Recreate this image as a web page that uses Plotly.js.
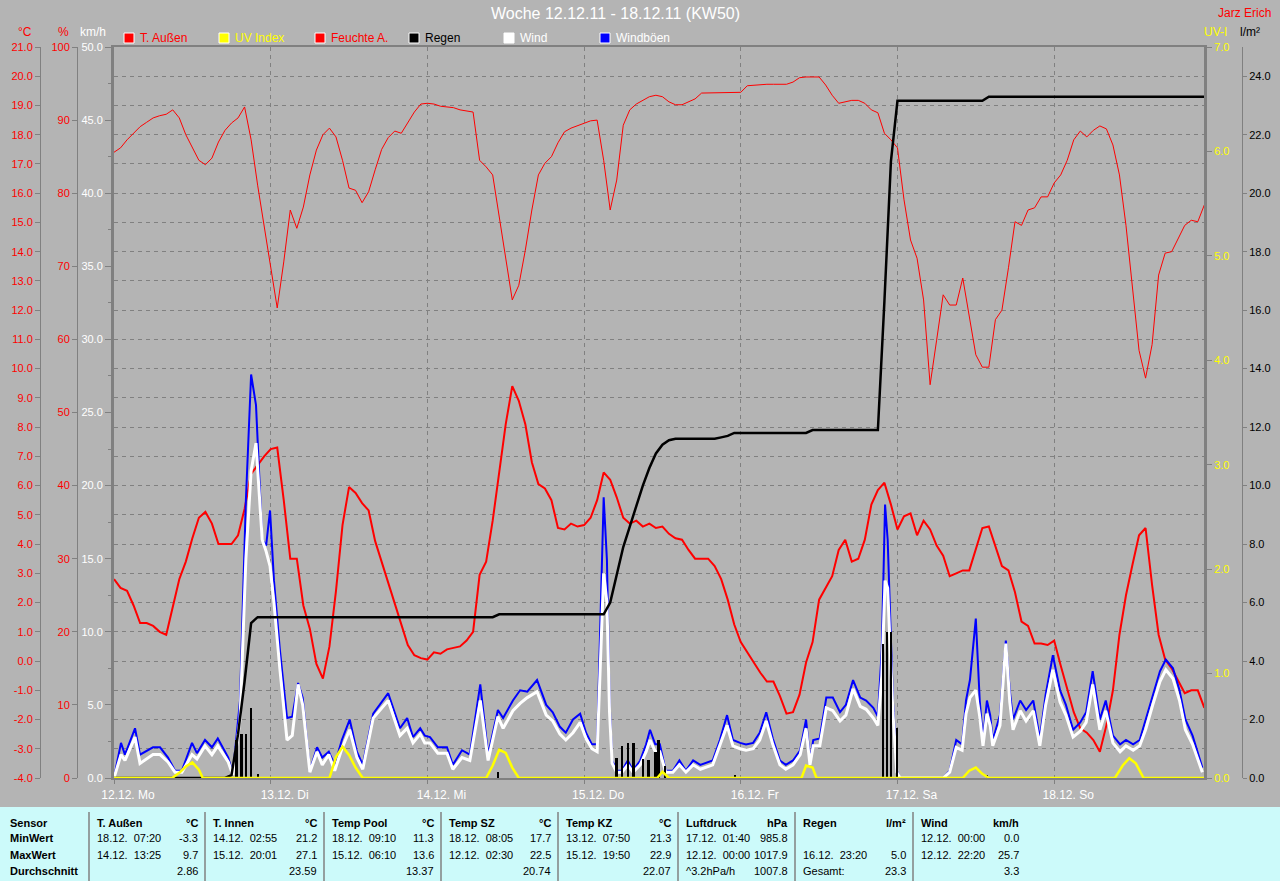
<!DOCTYPE html>
<html><head><meta charset="utf-8">
<script src="https://cdn.plot.ly/plotly-3.0.1.min.js"></script>
<style>html,body{margin:0;padding:0;background:#b4b4b4;overflow:hidden}#chart{width:1280px;height:881px}</style>
</head><body><div id="chart"></div>
<script>
// ---------- DATA ----------
const dayLabels = ['12.12. Mo','13.12. Di','14.12. Mi','15.12. Do','16.12. Fr','17.12. Sa','18.12. So'];
const dayHours = [0,24,48,72,96,120,144];

// hourly values, hour 0 = 12.12. 00:00
const tempOut = [2.8,2.5,2.4,1.9,1.3,1.3,1.2,1.0,0.9,1.8,
2.8,3.4,4.2,4.9,5.1,4.7,4.0,4.0,4.0,4.3,
5.2,6.4,6.7,7.0,7.25,7.3,5.5,3.5,3.5,1.9,
1.1,-0.1,-0.6,0.5,2.4,4.65,5.95,5.75,5.4,5.15,
4.1,3.4,2.7,2.0,1.3,0.55,0.2,0.1,0.05,0.3,
0.25,0.4,0.45,0.5,0.7,1.0,2.95,3.4,4.8,6.5,
8.1,9.4,8.9,8.1,6.8,6.05,5.9,5.5,4.55,4.5,
4.7,4.6,4.65,4.9,5.5,6.45,6.2,5.6,4.9,4.7,
4.8,4.6,4.7,4.55,4.6,4.35,4.2,4.15,3.8,3.5,
3.5,3.5,3.25,2.8,2.1,1.25,0.65,0.3,-0.05,-0.4,
-0.7,-0.7,-1.2,-1.8,-1.75,-1.15,-0.05,0.65,2.1,2.5,
2.9,3.8,4.15,3.4,3.5,4.15,5.35,5.85,6.1,5.35,
4.5,4.95,5.05,4.3,4.8,4.5,3.95,3.6,2.9,3.0,
3.1,3.1,3.85,4.55,4.6,3.95,3.25,3.1,2.35,1.35,
1.2,0.6,0.6,0.55,0.7,-0.15,-1.0,-1.75,-2.3,-2.45,
-2.7,-3.1,-2.2,-1.0,0.9,2.25,3.3,4.3,4.55,2.6,
0.9,0.05,-0.25,-0.65,-1.1,-1.0,-1.0,-1.6];

const humidity = [85.6,86.2,87.3,88.2,89.1,89.7,90.3,90.6,90.8,91.4,
90.3,88.0,86.2,84.5,83.9,84.8,87.0,88.6,89.6,90.3,
91.8,87.3,81.1,75.6,70.2,64.3,70.6,77.7,75.2,78.1,
82.5,85.9,88.0,88.9,87.7,84.5,80.7,80.4,78.7,80.2,
83.2,86.0,87.6,88.5,88.2,89.7,91.1,92.2,92.3,92.2,
91.9,91.8,91.7,91.4,91.2,91.1,84.5,83.6,82.5,77.0,
71.1,65.4,67.4,72.2,77.7,82.5,84.1,85.0,86.9,88.4,
88.9,89.2,89.5,89.9,90.0,84.5,77.7,81.8,89.3,91.4,
92.2,92.7,93.2,93.4,93.2,92.5,92.1,92.1,92.5,92.9,
93.7,93.7,93.7,93.7,93.7,93.7,93.8,94.7,94.8,94.8,
94.9,94.9,94.9,94.9,95.2,95.8,95.9,95.9,95.9,94.8,
93.4,92.3,92.5,92.7,92.7,92.3,91.4,91.0,88.2,87.3,
86.2,79.1,73.6,71.1,65.4,53.8,59.9,66.1,64.7,64.7,
68.4,63.3,57.9,56.2,56.2,62.7,64.0,69.8,76.1,75.6,
77.7,78.0,79.5,79.5,81.4,82.5,84.5,87.3,88.5,87.7,
88.6,89.2,88.8,86.6,82.5,75.6,67.4,58.5,54.7,59.3,
68.8,71.8,72.0,73.9,75.6,76.3,76.1,78.4];

const rainTotal = [0,0,0,0,0,0,0,0,0,0,
0,0,0,0,0,0,0,0,0.1,1.5,
3.3,5.3,5.5,5.5,5.5,5.5,5.5,5.5,5.5,5.5,
5.5,5.5,5.5,5.5,5.5,5.5,5.5,5.5,5.5,5.5,
5.5,5.5,5.5,5.5,5.5,5.5,5.5,5.5,5.5,5.5,
5.5,5.5,5.5,5.5,5.5,5.5,5.5,5.5,5.5,5.6,
5.6,5.6,5.6,5.6,5.6,5.6,5.6,5.6,5.6,5.6,
5.6,5.6,5.6,5.6,5.6,5.6,6.0,6.9,7.9,8.6,
9.3,10.0,10.6,11.1,11.4,11.55,11.6,11.6,11.6,11.6,
11.6,11.6,11.6,11.65,11.7,11.8,11.8,11.8,11.8,11.8,
11.8,11.8,11.8,11.8,11.8,11.8,11.8,11.9,11.9,11.9,
11.9,11.9,11.9,11.9,11.9,11.9,11.9,11.9,16.3,21.1,
23.16,23.16,23.16,23.16,23.16,23.16,23.16,23.16,23.16,23.16,
23.16,23.16,23.16,23.16,23.3,23.3,23.3,23.3,23.3,23.3,
23.3,23.3,23.3,23.3,23.3,23.3,23.3,23.3,23.3,23.3,
23.3,23.3,23.3,23.3,23.3,23.3,23.3,23.3,23.3,23.3,
23.3,23.3,23.3,23.3,23.3,23.3,23.3,23.3];

const rainBarHours = [18.8,19.5,20.2,21.0,22.05,58.8,77.0,77.8,78.7,79.6,81.0,81.9,82.9,83.4,84.4,95.1,117.8,118.4,119.0,119.9,133.7];
const rainBars = [1.3,1.5,1.5,2.4,0.15,0.2,0.7,1.1,1.2,1.2,0.65,0.6,0.9,1.3,0.4,0.1,4.6,5.0,5.0,1.7,0.1];

const windHours = [0,1.07,1.68,3.22,3.98,5.97,7.05,8.27,9.34,10.4,
11.95,12.7,13.94,15.0,15.9,17.5,18.2,19.3,20.2,21.0,
21.75,22.7,23.3,23.9,24.5,25.4,26.5,27.3,28.2,28.9,
30.0,31.1,31.9,32.9,33.8,34.9,36.1,37.2,38.1,39.7,
42.0,43.8,44.9,45.8,46.9,47.6,48.4,49.6,51.0,51.9,
53.3,54.5,56.1,57.3,58.8,59.6,61.1,62.2,63.3,64.8,
66.2,67.2,68.3,69.2,70.3,71.4,72.3,73.2,74.0,74.5,
75.0,75.5,75.9,76.3,77.0,77.8,78.7,79.5,80.6,81.5,
82.1,82.9,83.6,84.5,85.6,86.6,87.6,88.7,89.8,91.7,
92.8,93.9,94.8,95.9,96.8,97.9,98.9,99.9,100.9,102.0,
102.9,104.0,105.1,106.0,106.6,107.1,108.1,109.1,110.1,111.2,
112.1,113.2,114.3,115.2,116.3,117.0,117.6,118.1,118.5,118.8,
119.3,119.9,120.4,127.0,128.0,129.0,129.9,130.5,131.1,132.0,
132.6,133.1,133.7,134.2,134.6,135.7,136.6,137.2,137.7,138.8,
139.7,140.8,141.8,142.7,143.8,144.9,145.8,146.9,148.0,148.9,
149.9,151.0,151.9,153.0,154.1,155.0,156.1,157.1,158.0,159.1,
160.2,161.1,162.2,163.2,164.1,165.2,166.7];

const gustKmh = [0,2.4,1.6,3.4,1.6,2.1,2.1,1.4,0.5,0.5,
2.4,1.7,2.6,2.1,2.7,1.4,0.3,5.3,19.0,27.6,
25.5,16.3,15.9,18.3,13.5,8.8,4.1,4.2,6.5,5.5,
0.5,2.1,1.4,1.8,0.9,2.6,4.0,1.8,0.9,4.4,
5.8,3.4,4.1,2.8,3.4,2.9,2.8,2.1,2.1,0.9,
1.9,1.6,6.4,1.6,4.65,4.1,5.3,6.0,5.9,6.7,
5.0,4.5,3.5,3.1,4.0,4.4,3.1,2.3,2.3,10.8,
19.2,14.9,5.3,1.2,0.5,0.5,1.2,0.5,1.2,2.3,
3.3,2.3,2.3,0.5,0.5,1.2,0.5,1.2,0.9,1.2,
2.6,4.3,2.6,2.4,2.3,2.4,3.1,4.5,2.7,1.2,
0.9,1.2,1.9,4.0,1.2,2.6,2.7,5.5,5.5,4.5,
5.0,6.7,5.5,5.3,4.8,4.2,8.8,18.7,16.3,12.2,
5.3,0.5,0,0,0.5,2.6,2.3,5.3,6.7,10.9,
5.3,2.6,5.3,4.3,2.6,4.3,9.4,6.0,4.0,5.3,
4.65,5.3,2.7,5.7,8.4,6.0,5.0,3.3,3.8,4.5,
7.3,4.0,5.3,2.9,2.3,2.6,2.3,2.6,4.0,5.7,
7.3,8.1,7.5,6.0,4.0,2.9,0.7];

const windKmh = [0,1.6,1.2,2.8,1.0,1.6,1.6,1.1,0.4,0.4,
1.6,1.3,2.2,1.6,2.2,1.1,0.2,4.0,15.0,21.0,
22.9,16.3,15.5,14.5,12.0,7.5,2.6,2.9,6.4,5.0,
0.4,1.8,0.9,1.6,0.5,2.0,3.3,1.4,0.6,4.1,
5.3,2.9,3.4,2.4,3.0,2.4,2.4,1.7,1.7,0.6,
1.4,1.2,5.3,1.2,4.2,3.4,4.6,5.1,5.5,5.9,
4.3,3.9,3.0,2.6,3.1,3.8,2.7,2.0,1.8,8.0,
14.0,12.0,4.5,1.0,0.4,0.4,0.9,0.4,0.9,1.8,
2.6,1.8,1.8,0.4,0.4,0.9,0.4,0.9,0.6,0.9,
2.2,3.6,2.2,2.0,1.9,2.0,2.6,3.9,2.3,0.9,
0.6,0.9,1.6,3.4,0.9,2.2,2.2,4.8,4.6,3.9,
4.3,6.1,4.9,4.7,4.1,3.6,7.0,13.5,13.0,10.0,
4.5,0.4,0,0,0.4,2.1,1.9,4.4,5.5,6.0,
4.2,2.2,4.4,3.6,2.2,3.6,9.2,5.2,3.3,4.6,
3.9,4.6,2.2,5.0,7.4,5.2,4.3,2.8,3.2,3.8,
6.4,3.3,4.6,2.4,1.8,2.2,1.9,2.2,3.3,5.0,
6.6,7.4,6.8,5.3,3.3,2.3,0.4];

const uvHours = [0,8.9,10,11,12,13,13.6,33,34,35,36,37,38.1,57,58,59,60,61,62,83.2,84,85,105.3,106,107,107.6,130,131,132,133,134,153.3,154.5,155.5,156.5,157.7,167];
const uvIndex = [0,0,0.05,0.11,0.15,0.08,0,0,0.2,0.3,0.22,0.1,0,0,0.12,0.27,0.24,0.1,0,0,0.06,0,0,0.12,0.1,0,0,0.07,0.1,0.04,0,0,0.12,0.19,0.14,0,0];

// axis ticks
const tempTicks = [-4,-3,-2,-1,0,1,2,3,4,5,6,7,8,9,10,11,12,13,14,15,16,17,18,19,20,21];
const rainTicks = [0,2,4,6,8,10,12,14,16,18,20,22,24];

// legend
const legendNames = ['T. Außen','UV Index','Feuchte A.','Regen','Wind','Windböen'];
const legendColors = ['#ff0000','#ffff00','#ff0000','#000000','#ffffff','#0000ff'];
const legendTextColors = ['#ff0000','#ffff00','#ff0000','#000000','#ffffff','#ffffff'];

// statistics table
const rowLabels = ['Sensor','MinWert','MaxWert','Durchschnitt'];
const sensors = ['T. Außen','T. Innen','Temp Pool','Temp SZ','Temp KZ','Luftdruck','Regen','Wind'];
const units = ['°C','°C','°C','°C','°C','hPa','l/m²','km/h'];
const minTimes = ['18.12. 07:20','14.12. 02:55','18.12. 09:10','18.12. 08:05','13.12. 07:50','17.12. 01:40','','12.12. 00:00'];
const minVals = ['-3.3','21.2','11.3','17.7','21.3','985.8','','0.0'];
const maxTimes = ['14.12. 13:25','15.12. 20:01','15.12. 06:10','12.12. 02:30','15.12. 19:50','12.12. 00:00','16.12. 23:20','12.12. 22:20'];
const maxVals = ['9.7','27.1','13.6','22.5','22.9','1017.9','5.0','25.7'];
const avgLabels = ['','','','','','^3.2hPa/h','Gesamt:',''];
const avgVals = ['2.86','23.59','13.37','20.74','22.07','1007.8','23.3','3.3'];

// ---------- LAYOUT HELPERS ----------
const W = 1280, H = 881;
const px = x => x / W;
const py = y => 1 - y / H;
const GRAY = '#808080';
const BG = '#b4b4b4';
const FONT = 'Liberation Sans, Arial, sans-serif';

const hours = tempOut.map((_, i) => i);

const traces = [
  {x: hours, y: tempOut, yaxis: 'y', type: 'scatter', mode: 'lines', name: 'T. Außen',
   line: {color: '#ff0000', width: 2}, hoverinfo: 'skip'},
  {x: windHours, y: gustKmh, yaxis: 'y2', type: 'scatter', mode: 'lines', name: 'Windböen',
   line: {color: '#0000ff', width: 2}, hoverinfo: 'skip'},
  {x: windHours, y: windKmh, yaxis: 'y2', type: 'scatter', mode: 'lines', name: 'Wind',
   line: {color: '#ffffff', width: 3}, hoverinfo: 'skip'},
  {x: hours, y: humidity, yaxis: 'y3', type: 'scatter', mode: 'lines', name: 'Feuchte A.',
   line: {color: '#ff0000', width: 1}, hoverinfo: 'skip'},
  {x: rainBarHours, y: rainBars, yaxis: 'y4', type: 'bar', name: 'Regen', width: 0.4,
   marker: {color: '#000000', line: {width: 0}}, hoverinfo: 'skip'},
  {x: hours, y: rainTotal, yaxis: 'y4', type: 'scatter', mode: 'lines', name: 'Regen gesamt',
   line: {color: '#000000', width: 2.5}, hoverinfo: 'skip'},
  {x: uvHours, y: uvIndex, yaxis: 'y5', type: 'scatter', mode: 'lines', name: 'UV Index',
   line: {color: '#ffff00', width: 2.5}, hoverinfo: 'skip'}
];

const shapes = [];
const annotations = [];
function txt(x, y, text, color, opts) {
  annotations.push(Object.assign({
    xref: 'paper', yref: 'paper', x: px(x), y: py(y), text: text, showarrow: false,
    xanchor: 'left', yanchor: 'middle', font: {family: FONT, size: 12, color: color}
  }, opts || {}));
}

// title
txt(615, 14, 'Woche 12.12.11 - 18.12.11 (KW50)', '#ffffff', {xanchor: 'center', font: {family: FONT, size: 16, color: '#ffffff'}});
txt(1273, 13, 'Jarz Erich', '#ff0000', {xanchor: 'right'});
// axis titles
txt(25, 32, '°C', '#ff0000', {xanchor: 'center'});
txt(63, 32, '%', '#ff0000', {xanchor: 'center'});
txt(93, 32, 'km/h', '#ffffff', {xanchor: 'center'});
txt(1215, 32, 'UV-I', '#ffff00', {xanchor: 'center'});
txt(1250, 32, 'l/m²', '#000000', {xanchor: 'center'});

// legend
const legendX = [124, 219, 315, 409, 504, 600];
legendNames.forEach((n, i) => {
  shapes.push({type: 'rect', xref: 'paper', yref: 'paper', x0: px(legendX[i]), x1: px(legendX[i] + 10),
    y0: py(43), y1: py(33), fillcolor: legendColors[i], line: {color: '#ffffff', width: 1}});
  txt(legendX[i] + 14, 38, n, legendTextColors[i]);
});

// table
shapes.push({type: 'rect', xref: 'paper', yref: 'paper', x0: 0, x1: 1, y0: 0, y1: py(807),
  fillcolor: '#ccfafa', line: {width: 0}, layer: 'below'});
const colLeft = [89, 205, 324, 441, 558, 678, 795, 913];
const colRight = [205, 324, 441, 558, 678, 795, 913, 1026];
const rowY = [823, 838, 855, 871];
const nb = s => s.replace(/ /g, '\u00a0\u00a0');
rowLabels.forEach((r, j) => txt(8, rowY[j], '<b>' + r + '</b>', '#000000', {font: {family: FONT, size: 11, color: '#000'}}));
sensors.forEach((s, i) => {
  shapes.push({type: 'line', xref: 'paper', yref: 'paper', x0: px(colLeft[i]), x1: px(colLeft[i]),
    y0: py(812), y1: 0, line: {color: GRAY, width: 1.5}});
  const L = colLeft[i] + 6, R = colRight[i] - 5;
  const f = {family: FONT, size: 11, color: '#000'};
  txt(L, rowY[0], '<b>' + s + '</b>', '#000', {font: f});
  txt(R, rowY[0], '<b>' + units[i] + '</b>', '#000', {font: f, xanchor: 'right'});
  if (minTimes[i]) txt(L, rowY[1], nb(minTimes[i]), '#000', {font: f});
  if (minVals[i]) txt(R, rowY[1], minVals[i], '#000', {font: f, xanchor: 'right'});
  if (maxTimes[i]) txt(L, rowY[2], nb(maxTimes[i]), '#000', {font: f});
  if (maxVals[i]) txt(R, rowY[2], maxVals[i], '#000', {font: f, xanchor: 'right'});
  if (avgLabels[i]) txt(L, rowY[3], avgLabels[i], '#000', {font: f});
  if (avgVals[i]) txt(R, rowY[3], avgVals[i], '#000', {font: f, xanchor: 'right'});
});

const yDomain = [py(778), py(47)];
const layout = {
  width: W, height: H,
  margin: {l: 0, r: 0, t: 0, b: 0, pad: 0},
  paper_bgcolor: BG, plot_bgcolor: BG,
  showlegend: false,
  font: {family: FONT, size: 11, color: '#ffffff'},
  bargap: 0,
  xaxis: {
    domain: [px(114), px(1204)], range: [0, 166.95], tickmode: 'array',
    tickvals: dayHours, ticktext: dayLabels, ticklabelshift: 14, ticklabelstandoff: 1,
    showgrid: true, gridcolor: GRAY, griddash: '4px,4px', gridwidth: 1,
    showline: true, linecolor: GRAY, linewidth: 2, mirror: true,
    ticks: 'outside', ticklen: 4, tickcolor: GRAY,
    tickfont: {family: FONT, size: 12, color: '#ffffff'}, zeroline: false, fixedrange: true, automargin: false
  },
  yaxis: {
    domain: yDomain, range: [-4, 21], tickmode: 'array', tickvals: tempTicks,
    ticktext: tempTicks.map(v => v.toFixed(1)),
    anchor: 'free', position: px(40), side: 'left',
    showline: true, linecolor: GRAY, linewidth: 1, ticks: 'outside', ticklen: 5, tickcolor: GRAY,
    tickfont: {family: FONT, size: 11, color: '#ff0000'},
    showgrid: true, gridcolor: GRAY, griddash: '4px,4px', gridwidth: 1, zeroline: false, automargin: false
  },
  yaxis2: {
    overlaying: 'y', anchor: 'x', side: 'left', range: [0, 50], tickmode: 'linear', tick0: 0, dtick: 5,
    tickformat: '.1f', showline: true, linecolor: GRAY, linewidth: 3, ticks: 'outside', ticklen: 6, tickcolor: GRAY,
    minor: {dtick: 2.5, tick0: 0, ticks: 'outside', ticklen: 3, tickcolor: GRAY, showgrid: false},
    tickfont: {family: FONT, size: 11, color: '#ffffff'}, showgrid: false, zeroline: false, automargin: false
  },
  yaxis3: {
    overlaying: 'y', anchor: 'free', position: px(77), side: 'left', range: [0, 100], tickmode: 'linear',
    tick0: 0, dtick: 10, tickformat: 'd',
    showline: true, linecolor: GRAY, linewidth: 1, ticks: 'outside', ticklen: 5, tickcolor: GRAY,
    tickfont: {family: FONT, size: 11, color: '#ff0000'}, showgrid: false, zeroline: false, automargin: false
  },
  yaxis4: {
    overlaying: 'y', anchor: 'free', position: px(1242), side: 'right', range: [0, 25], tickmode: 'array',
    tickvals: rainTicks, tickformat: '.1f',
    showline: true, linecolor: GRAY, linewidth: 1, ticks: 'outside', ticklen: 4, tickcolor: GRAY,
    tickfont: {family: FONT, size: 11, color: '#000000'}, showgrid: false, zeroline: false, automargin: false
  },
  yaxis5: {
    overlaying: 'y', anchor: 'x', side: 'right', range: [0, 7], tickmode: 'linear', tick0: 0, dtick: 1,
    tickformat: '.1f', showline: true, linecolor: GRAY, linewidth: 3, ticks: 'outside', ticklen: 5, tickcolor: GRAY,
    tickfont: {family: FONT, size: 11, color: '#ffff00'}, showgrid: false, zeroline: false, automargin: false
  },
  shapes: shapes,
  annotations: annotations
};

Plotly.newPlot('chart', traces, layout, {displayModeBar: false, staticPlot: true});
</script></body></html>
